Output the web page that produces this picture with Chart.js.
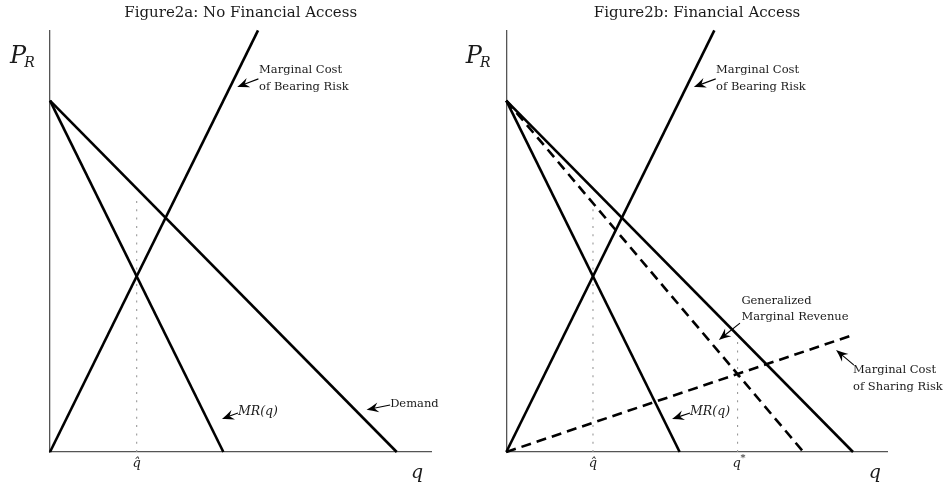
<!DOCTYPE html>
<html>
<head>
<meta charset="utf-8">
<script src="https://cdn.jsdelivr.net/npm/chart.js@4/dist/chart.umd.min.js"></script>
<style>
  html, body { margin: 0; padding: 0; background: #fff; }
  #wrap { position: relative; width: 947px; height: 491px; }
  canvas { position: absolute; top: 0; }
  #c1 { left: 0; }
  #c2 { left: 453px; }
</style>
</head>
<body>
<div id="wrap">
  <canvas id="c1" width="453" height="491"></canvas>
  <canvas id="c2" width="494" height="491"></canvas>
</div>
<script>
// ---- Data (quantity q, price P_R) ----
const demandQ   = [0, 10];
const demandP   = [10, 0];
const mrQ       = [0, 5];
const mrP       = [10, 0];
const mcBearQ   = [0, 6];
const mcBearP   = [0, 12];
const gmrQ      = [0, 8.57];
const gmrP      = [10, 0];
const mcShareQ  = [0, 10];
const mcShareP  = [0, 3.33];
const qHat      = 2.5;
const qStar     = 6.67;
const hatGuideA = [0, 7.25];   // dotted guide heights, panel a
const hatGuideB = [0, 7.1];    // panel b
const starGuide = [0, 3.2];
const qRange    = [0, 11];
const pRange    = [0, 12];

const titles = ['Figure2a: No Financial Access', 'Figure2b: Financial Access'];

function pts(xs, ys) { return xs.map((x, i) => ({ x: x, y: ys[i] })); }
function vline(x, ys) { return ys.map(y => ({ x: x, y: y })); }

const SOLID = { borderColor: '#000', borderWidth: 2.6, pointRadius: 0, showLine: true, fill: false, clip: false };
const DASH  = Object.assign({}, SOLID, { borderDash: [10, 6] });
const DOT   = { borderColor: '#999', borderWidth: 1.1, borderDash: [2, 6.3], pointRadius: 0, showLine: true, fill: false, clip: false };

const SERIF = '"DejaVu Serif", "Liberation Serif", serif';

// annotation layout (in data units, converted with the chart's scales)
const annA = {
  title: titles[0],
  texts: [
    { lines: ['Marginal Cost', 'of Bearing Risk'], q: 6.03, p: [10.87, 10.39] },
    { lines: ['MR(q)'], q: 5.42, p: [1.15], italic: true },
    { lines: ['Demand'], q: 9.81, p: [1.37] }
  ],
  arrows: [
    { from: [6.01, 10.62], to: [5.40, 10.39] },
    { from: [5.42, 1.11], to: [4.96, 0.94] },
    { from: [9.81, 1.34], to: [9.13, 1.20] }
  ],
  marks: [ { q: qHat, label: 'hat' } ],
  pLabelQ: -1.154,
  qLabelQ: 10.59
};
const annB = {
  title: titles[1],
  texts: [
    { lines: ['Marginal Cost', 'of Bearing Risk'], q: 6.05, p: [10.87, 10.39] },
    { lines: ['Generalized', 'Marginal Revenue'], q: 6.78, p: [4.31, 3.84] },
    { lines: ['Marginal Cost', 'of Sharing Risk'], q: 10.0, p: [2.33, 1.86] },
    { lines: ['MR(q)'], q: 5.30, p: [1.15], italic: true }
  ],
  arrows: [
    { from: [6.04, 10.62], to: [5.41, 10.39] },
    { from: [6.74, 3.67], to: [6.13, 3.19] },
    { from: [10.02, 2.48], to: [9.51, 2.90] },
    { from: [5.30, 1.11], to: [4.78, 0.94] }
  ],
  marks: [ { q: qHat, label: 'hat' }, { q: qStar, label: 'star' } ],
  pLabelQ: -1.17,
  qLabelQ: 10.63
};

function drawArrow(ctx, x0, y0, x1, y1) {
  const ang = Math.atan2(y1 - y0, x1 - x0);
  const len = Math.hypot(x1 - x0, y1 - y0);
  const L = 12, W = 5, N = 8;
  ctx.save();
  ctx.translate(x1, y1);
  ctx.rotate(ang);
  ctx.strokeStyle = '#000';
  ctx.fillStyle = '#000';
  ctx.lineWidth = 1.1;
  ctx.beginPath();
  ctx.moveTo(-len, 0);
  ctx.lineTo(-N + 0.5, 0);
  ctx.stroke();
  ctx.beginPath();
  ctx.moveTo(0, 0);
  ctx.quadraticCurveTo(-L * 0.45, W * 0.35, -L, W);
  ctx.lineTo(-N, 0);
  ctx.lineTo(-L, -W);
  ctx.quadraticCurveTo(-L * 0.45, -W * 0.35, 0, 0);
  ctx.closePath();
  ctx.fill();
  ctx.restore();
}

const annotatePlugin = {
  id: 'annotate',
  afterDraw(chart) {
    const ann = chart.options.plugins.annotate;
    if (!ann) return;
    const ctx = chart.ctx;
    const xs = chart.scales.x, ys = chart.scales.y;
    const X = v => xs.getPixelForValue(v);
    const Y = v => ys.getPixelForValue(v);
    ctx.save();
    ctx.fillStyle = '#1a1a1a';
    // title
    ctx.font = '15px ' + SERIF;
    ctx.textAlign = 'center';
    ctx.textBaseline = 'alphabetic';
    ctx.fillText(ann.title, (chart.chartArea.left + chart.chartArea.right) / 2, 17);
    // annotation texts
    ctx.textAlign = 'left';
    ctx.textBaseline = 'middle';
    ann.texts.forEach(t => {
      ctx.font = (t.italic ? 'italic 12.5px ' : '11.5px ') + SERIF;
      t.lines.forEach((ln, i) => ctx.fillText(ln, X(t.q), Y(t.p[i])));
    });
    ann.arrows.forEach(a => drawArrow(ctx, X(a.from[0]), Y(a.from[1]), X(a.to[0]), Y(a.to[1])));
    // q-hat / q* labels
    ctx.textBaseline = 'alphabetic';
    ann.marks.forEach(m => {
      const cx = X(m.q);
      const by = Y(-0.42);
      ctx.font = 'italic 13px ' + SERIF;
      ctx.textAlign = 'center';
      if (m.label === 'hat') {
        ctx.fillText('q\u0302', cx, by);
      } else {
        ctx.fillText('q', cx - 1, by);
        ctx.font = '10px ' + SERIF;
        ctx.textAlign = 'left';
        ctx.fillText('*', cx + 3, by - 6);
      }
    });
    // axis labels
    ctx.textAlign = 'left';
    ctx.font = 'italic 24px ' + SERIF;
    const px = X(ann.pLabelQ), py = Y(11.07);
    ctx.fillText('P', px, py);
    const pw = ctx.measureText('P').width;
    ctx.font = 'italic 14px ' + SERIF;
    ctx.fillText('R', px + pw - 2, py + 4);
    ctx.font = 'italic 19px ' + SERIF;
    ctx.textAlign = 'center';
    ctx.fillText('q', X(ann.qLabelQ), Y(-0.74));
    ctx.restore();
  }
};

function axes() {
  const common = {
    type: 'linear',
    ticks: { display: false },
    grid: { display: false, drawTicks: false },
    border: { display: true, color: '#555', width: 1.3 }
  };
  return {
    x: Object.assign({}, common, { min: qRange[0], max: qRange[1], afterFit: s => { s.height = 0; } }),
    y: Object.assign({}, common, { min: pRange[0], max: pRange[1], afterFit: s => { s.width = 0; } })
  };
}

function makeChart(id, datasets, padding, ann) {
  return new Chart(document.getElementById(id), {
    type: 'scatter',
    data: { datasets: datasets },
    options: {
      responsive: false,
      animation: false,
      events: [],
      layout: { padding: padding, autoPadding: false },
      scales: axes(),
      plugins: { legend: { display: false }, tooltip: { enabled: false }, annotate: ann }
    },
    plugins: [annotatePlugin]
  });
}

makeChart('c1', [
  Object.assign({ data: pts(demandQ, demandP) }, SOLID),
  Object.assign({ data: pts(mrQ, mrP) }, SOLID),
  Object.assign({ data: pts(mcBearQ, mcBearP) }, SOLID),
  Object.assign({ data: vline(qHat, hatGuideA) }, DOT)
], { left: 50, right: 21.6, top: 30.4, bottom: 39 }, annA);

makeChart('c2', [
  Object.assign({ data: pts(demandQ, demandP) }, SOLID),
  Object.assign({ data: pts(mrQ, mrP) }, SOLID),
  Object.assign({ data: pts(mcBearQ, mcBearP) }, SOLID),
  Object.assign({ data: pts(gmrQ, gmrP) }, DASH),
  Object.assign({ data: pts(mcShareQ, mcShareP) }, DASH),
  Object.assign({ data: vline(qHat, hatGuideB) }, DOT),
  Object.assign({ data: vline(qStar, starGuide) }, DOT)
], { left: 53.3, right: 59.3, top: 30.4, bottom: 39 }, annB);
</script>
</body>
</html>
